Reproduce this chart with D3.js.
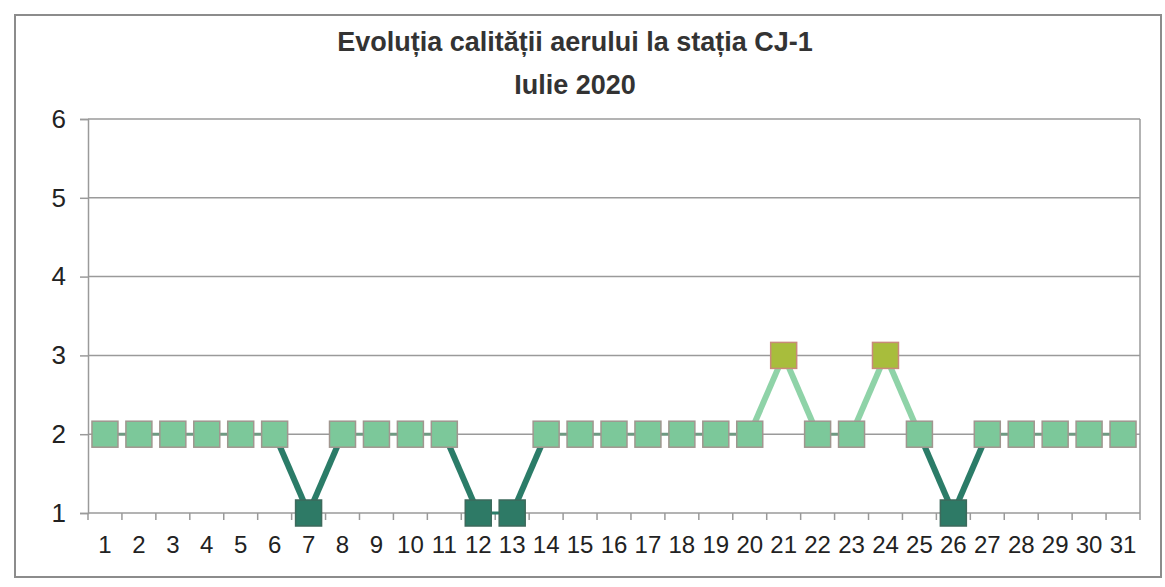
<!DOCTYPE html>
<html>
<head>
<meta charset="utf-8">
<script src="https://cdn.jsdelivr.net/npm/d3@7"></script>
<style>
  body { margin: 0; background: #fff; }
  text { font-family: "Liberation Sans", Arial, sans-serif; }
</style>
</head>
<body>
<div id="chart"></div>
<script>
// zilele lunii si indicele de calitate
const days = d3.range(1, 32).map(String);
const indexValues = [2,2,2,2,2,2,1,2,2,2,2,1,1,2,2,2,2,2,2,2,3,2,2,3,2,1,2,2,2,2,2];
const yTicks = [1, 2, 3, 4, 5, 6];
const titleLines = ["Evoluția calității aerului la stația CJ-1", "Iulie 2020"];

const W = 1165, H = 587;
const plotLeft = 88, plotRight = 1140, plotTop = 119, plotBottom = 513;

const svg = d3.select("#chart")
  .append("svg")
  .attr("width", W)
  .attr("height", H);

// rama graficului
svg.append("rect")
  .attr("x", 15).attr("y", 15)
  .attr("width", 1146).attr("height", 562)
  .attr("fill", "none")
  .attr("stroke", "#8c8c8c")
  .attr("stroke-width", 2);

const x = d3.scaleBand().domain(days).range([plotLeft, plotRight]);
const y = d3.scaleLinear().domain([1, 6]).range([plotBottom, plotTop]);

// linii de grila
svg.append("g")
  .selectAll("line")
  .data(yTicks.slice(1))
  .join("line")
  .attr("x1", plotLeft).attr("x2", plotRight)
  .attr("y1", d => y(d)).attr("y2", d => y(d))
  .attr("stroke", "#9a9a9a")
  .attr("stroke-width", 1.5);

// bordura dreapta a zonei de desen
svg.append("line")
  .attr("x1", plotRight).attr("x2", plotRight)
  .attr("y1", plotTop).attr("y2", plotBottom)
  .attr("stroke", "#9a9a9a").attr("stroke-width", 1.5);

// axa Y
const yAxis = d3.axisLeft(y).tickValues(yTicks).tickFormat(d3.format("d")).tickSize(8).tickPadding(14);
const gy = svg.append("g")
  .attr("transform", `translate(${plotLeft},0)`)
  .call(yAxis);
gy.select(".domain").attr("stroke", "#9a9a9a").attr("stroke-width", 1.5);
gy.selectAll(".tick line").attr("stroke", "#9a9a9a").attr("stroke-width", 1.5);
gy.selectAll(".tick text")
  .attr("font-size", 26)
  .attr("fill", "#222");

// axa X (tick-uri intre categorii)
const bounds = d3.range(0, days.length + 1).map(i => plotLeft + i * x.step());
svg.append("line")
  .attr("x1", plotLeft).attr("x2", plotRight)
  .attr("y1", plotBottom).attr("y2", plotBottom)
  .attr("stroke", "#9a9a9a").attr("stroke-width", 1.5);
svg.append("g")
  .selectAll("line")
  .data(bounds)
  .join("line")
  .attr("x1", d => d).attr("x2", d => d)
  .attr("y1", plotBottom).attr("y2", plotBottom + 7)
  .attr("stroke", "#9a9a9a").attr("stroke-width", 1.5);

const xAxis = d3.axisBottom(x).tickSize(0).tickPadding(23);
const gx = svg.append("g")
  .attr("transform", `translate(0,${plotBottom})`)
  .call(xAxis);
gx.select(".domain").remove();
gx.selectAll(".tick text")
  .attr("font-size", 24)
  .attr("fill", "#222");

// segmentele liniei
const pts = days.map((d, i) => ({ day: d, v: indexValues[i] }));
const segs = d3.pairs(pts);
function segColor(a, b) {
  if (a.v === 1 || b.v === 1) return "#2b7c68";
  if (a.v === 3 || b.v === 3) return "#8fd3a8";
  return "#6f9a82";
}
function segWidth(a, b) {
  return (a.v !== b.v) ? 6 : 3;
}
svg.append("g")
  .selectAll("line")
  .data(segs)
  .join("line")
  .attr("x1", d => x(d[0].day) + x.bandwidth() / 2)
  .attr("y1", d => y(d[0].v))
  .attr("x2", d => x(d[1].day) + x.bandwidth() / 2)
  .attr("y2", d => y(d[1].v))
  .attr("stroke", d => segColor(d[0], d[1]))
  .attr("stroke-width", d => segWidth(d[0], d[1]));

// marcatori
const fillFor = v => v === 1 ? "#2e7a66" : v === 3 ? "#a8bd3c" : "#7cc89a";
const strokeFor = v => v === 1 ? "#3d6a5c" : v === 3 ? "#c98a7a" : "#a0968f";
const m = 26;
svg.append("g")
  .selectAll("rect")
  .data(pts)
  .join("rect")
  .attr("x", d => x(d.day) + x.bandwidth() / 2 - m / 2)
  .attr("y", d => y(d.v) - m / 2)
  .attr("width", m)
  .attr("height", m)
  .attr("fill", d => fillFor(d.v))
  .attr("stroke", d => strokeFor(d.v))
  .attr("stroke-width", 1.5);

// titlu
svg.append("g")
  .selectAll("text")
  .data(titleLines)
  .join("text")
  .attr("x", 575)
  .attr("y", (d, i) => 51 + i * 43)
  .attr("text-anchor", "middle")
  .attr("font-size", 27)
  .attr("font-weight", "bold")
  .attr("fill", "#333")
  .text(d => d);
</script>
</body>
</html>
